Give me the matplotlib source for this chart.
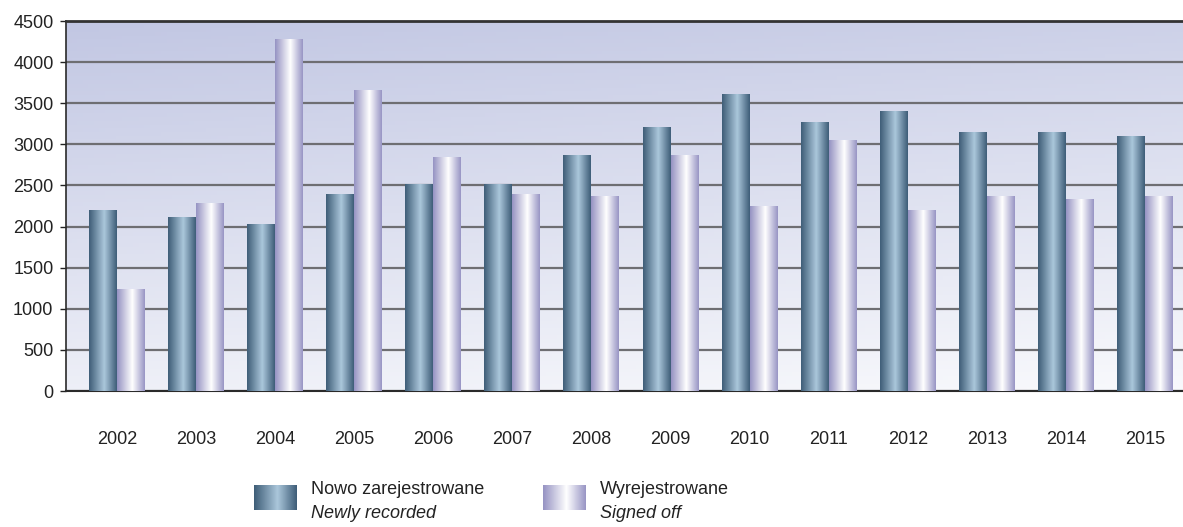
import numpy as np
import matplotlib.pyplot as plt
from matplotlib.colors import LinearSegmentedColormap

plt.rcParams['font.family'] = ['Liberation Sans Narrow', 'Liberation Sans', 'DejaVu Sans']

years = ['2002', '2003', '2004', '2005', '2006', '2007', '2008',
         '2009', '2010', '2011', '2012', '2013', '2014', '2015']
newly = [2190, 2105, 2020, 2395, 2510, 2515, 2860, 3210, 3610, 3270, 3405, 3140, 3140, 3100]
signed = [1240, 2275, 4270, 3650, 2835, 2385, 2370, 2870, 2240, 3050, 2200, 2370, 2325, 2370]
labels_pl = ['Nowo zarejestrowane', 'Wyrejestrowane']
labels_en = ['Newly recorded', 'Signed off']

cm_dark = LinearSegmentedColormap.from_list('dark', [(0, '#3f5e78'), (0.55, '#abc7db'), (1, '#3f5e79')])
cm_light = LinearSegmentedColormap.from_list('light', [(0, '#9693c3'), (0.55, '#ffffff'), (1, '#9996c5')])
grad = np.linspace(0, 1, 64).reshape(1, -1)

fig = plt.figure(figsize=(11.83, 5.27), dpi=100)
ax = fig.add_axes([66/1183, 136/527, 1 - 66/1183, 370/527])

# background gradient
yy, xx = np.mgrid[0:1:100j, 0:1:200j]
t = 0.8 * yy + 0.2 * xx
top = np.array([0.76, 0.78, 0.89])
bot = np.array([0.975, 0.978, 0.99])
bg = top * (1 - t[..., None]) + bot * t[..., None]
ax.imshow(bg, extent=(0, 1, 0, 1), transform=ax.transAxes, aspect='auto', zorder=0, origin='upper')

x = np.arange(len(years))
w = 0.354
b1 = ax.bar(x - w/2, newly, w, color='none', zorder=2)
b2 = ax.bar(x + w/2, signed, w, color='none', zorder=2)
for bars, cm in ((b1, cm_dark), (b2, cm_light)):
    for p in bars:
        x0, y0 = p.get_x(), p.get_y()
        ax.imshow(grad, cmap=cm, extent=(x0, x0 + p.get_width(), y0, y0 + p.get_height()),
                  aspect='auto', zorder=3, interpolation='bilinear')

ax.set_xlim(-0.645, 13.48)
ax.set_ylim(0, 4500)
ax.set_yticks(np.arange(0, 4501, 500))
ax.set_xticks(x)
ax.set_xticklabels(years)
ax.yaxis.grid(True, color='#6e6e72', linewidth=1.6, zorder=1)
ax.set_axisbelow(True)
for s in ['top', 'right']:
    ax.spines[s].set_visible(False)
ax.spines['left'].set_color('#2a2a2a')
ax.spines['bottom'].set_color('#2a2a2a')
ax.spines['left'].set_linewidth(1.2)
ax.spines['bottom'].set_linewidth(1.5)
ax.axhline(4500, color='#333333', linewidth=2, clip_on=False, zorder=4)
ax.tick_params(axis='y', length=4, width=1, pad=5, labelsize=13, colors='#222222')
ax.tick_params(axis='x', length=0, pad=29, labelsize=13, colors='#222222')

# legend
for i, (cm, xpos) in enumerate(((cm_dark, 254), (cm_light, 543))):
    lax = fig.add_axes([xpos/1183, (527-510)/527, 43/1183, 25/527])
    lax.imshow(grad, cmap=cm, aspect='auto', interpolation='bilinear')
    lax.axis('off')
    fig.text((xpos + 57)/1183, (527-489)/527, labels_pl[i], fontsize=13, va='center', color='#222222')
    fig.text((xpos + 57)/1183, (527-514)/527, labels_en[i], fontsize=13, va='center',
             style='italic', color='#222222')

fig.savefig('out.png', dpi=100)
